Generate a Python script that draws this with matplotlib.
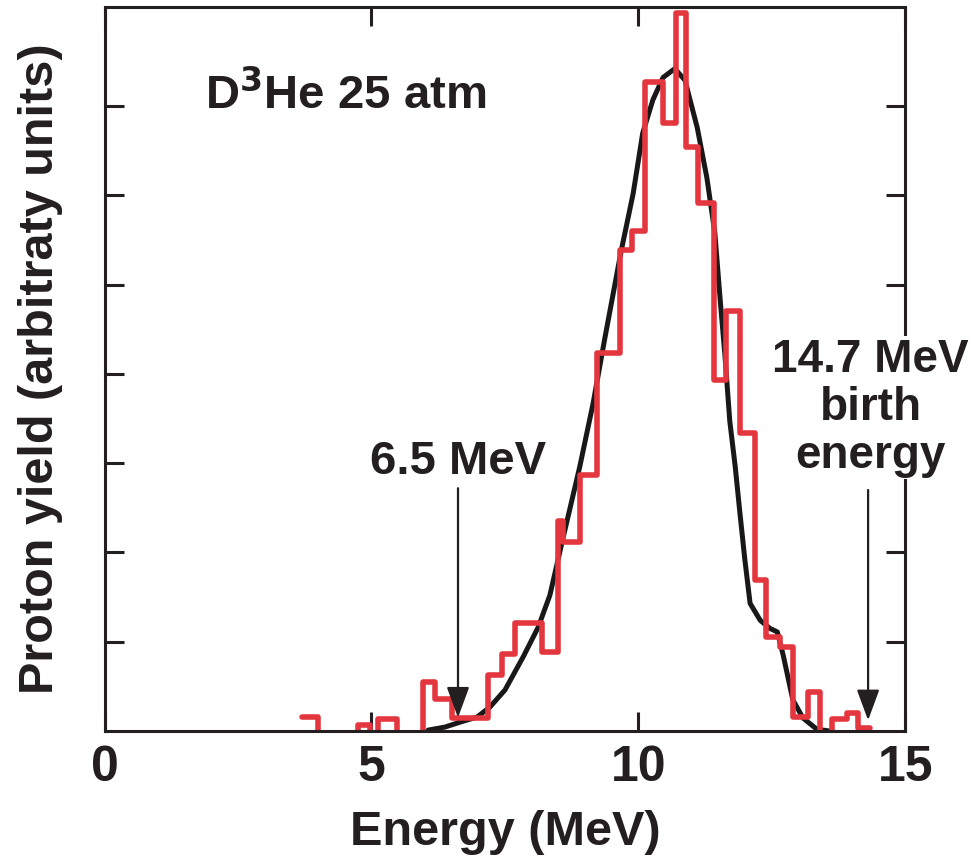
import numpy as np
import matplotlib
matplotlib.use("Agg")
import matplotlib.pyplot as plt

# ---- data ----
# measured proton spectrum (step histogram): bin edges (MeV) and heights (arb. units)
hist_edges = [3.70, 4.00, 4.75, 4.97, 5.12, 5.48, 5.96, 6.19, 6.51, 7.18, 7.44,
              7.69, 8.19, 8.49, 8.59, 8.90, 9.22, 9.65, 9.88, 10.12, 10.46,
              10.70, 10.89, 11.11, 11.41, 11.64, 11.90, 12.18, 12.39, 12.65,
              12.89, 13.17, 13.40, 13.63, 13.91, 14.11, 14.33]
hist_vals = [0.157, -0.03, 0.067, -0.03, 0.134, -0.03, 0.549, 0.358, 0.146,
             0.627, 0.862, 1.209, 0.885, 2.35, 2.12, 2.87, 4.24, 5.39, 5.60,
             7.27, 6.81, 8.04, 6.54, 5.91, 3.93, 4.70, 3.34, 1.69, 1.05, 0.94,
             0.157, 0.437, -0.02, 0.134, 0.20, 0.034]

# fitted curve (black)
fit_E = [6.06, 6.38, 6.66, 6.98, 7.22, 7.50, 7.84, 8.12, 8.34, 8.59, 8.90,
         9.15, 9.37, 9.67, 9.90, 10.08, 10.27, 10.46, 10.68, 10.87, 11.10,
         11.28, 11.43, 11.53, 11.62, 11.71, 11.81, 11.90, 11.99, 12.09,
         12.28, 12.46, 12.60, 12.71, 12.89, 13.08, 13.34, 13.58]
fit_Y = [0.01, 0.045, 0.10, 0.157, 0.27, 0.46, 0.83, 1.16, 1.52, 2.17, 2.96,
         3.67, 4.40, 5.36, 6.02, 6.70, 7.07, 7.32, 7.42, 7.29, 6.76,
         6.20, 5.58, 4.83, 4.20, 3.47, 2.97, 2.44, 1.93, 1.43,
         1.24, 1.15, 1.11, 0.85, 0.35, 0.146, 0.02, 0.0]

x_ticks = [0, 5, 10, 15]
x_ticklabels = ["0", "5", "10", "15"]
y_ticks = [1, 2, 3, 4, 5, 6, 7]

arrow1_E, arrow1_top, arrow1_tip = 6.62, 2.72, 0.15
arrow2_E, arrow2_top, arrow2_tip = 14.30, 2.70, 0.12

# ---- figure ----
fig = plt.figure(figsize=(9.73, 8.56), dpi=100)
ax = fig.add_axes([0.1074, 0.146, 0.8232, 0.8458])

red = "#E3363E"
ink = "#231f20"
ax.stairs(hist_vals, hist_edges, color=red, lw=4.0, baseline=None,
          joinstyle="round", capstyle="round", zorder=2)
ax.plot(fit_E, fit_Y, color="#1a1718", lw=3.6, solid_joinstyle="round",
        solid_capstyle="round", zorder=1.9)

ax.set_xlim(0, 15)
ax.set_ylim(0, 8.11)

ax.set_xticks(x_ticks)
ax.set_xticklabels(x_ticklabels)
ax.set_yticks(y_ticks)
ax.tick_params(axis="both", which="both", direction="in", length=14, width=2.2,
               top=True, right=True, labelleft=False, color=ink)
ax.tick_params(axis="x", pad=10)
for s in ax.spines.values():
    s.set_linewidth(2.2)
    s.set_color(ink)

fam = ["Liberation Sans", "DejaVu Sans"]
for lab in ax.get_xticklabels():
    lab.set_fontfamily(fam)
    lab.set_fontweight("bold")
    lab.set_fontsize(36)
    lab.set_color(ink)

ax.set_xlabel("Energy (MeV)", fontsize=35, fontweight="bold", family=fam,
              color=ink, labelpad=14)
ax.set_ylabel("Proton yield (arbitraty units)", fontsize=35, fontweight="bold",
              family=fam, color=ink, labelpad=30)

ax.text(1.88, 7.12, r"D$^{\mathbf{3}}$He 25 atm", fontsize=34, fontweight="bold",
        family=fam, ha="left", va="center", color=ink)

ax.text(arrow1_E, 3.01, "6.5 MeV", fontsize=34, fontweight="bold", family=fam,
        ha="center", va="center", color=ink)
ax.text(arrow2_E + 0.05, 3.62, "14.7 MeV\nbirth\nenergy", fontsize=33, fontweight="bold",
        family=fam, ha="center", va="center", color=ink, linespacing=1.12,
        bbox=dict(facecolor="white", edgecolor="none", pad=1), zorder=5,
        clip_on=False)

for E, top, tip in [(arrow1_E, arrow1_top, arrow1_tip), (arrow2_E, arrow2_top, arrow2_tip)]:
    ax.annotate("", xy=(E, tip), xytext=(E, top),
                arrowprops=dict(arrowstyle="-|>,head_length=1.9,head_width=0.7",
                                color=ink, lw=1.6, shrinkA=0, shrinkB=0),
                zorder=4)

fig.savefig("out.png", dpi=100)
